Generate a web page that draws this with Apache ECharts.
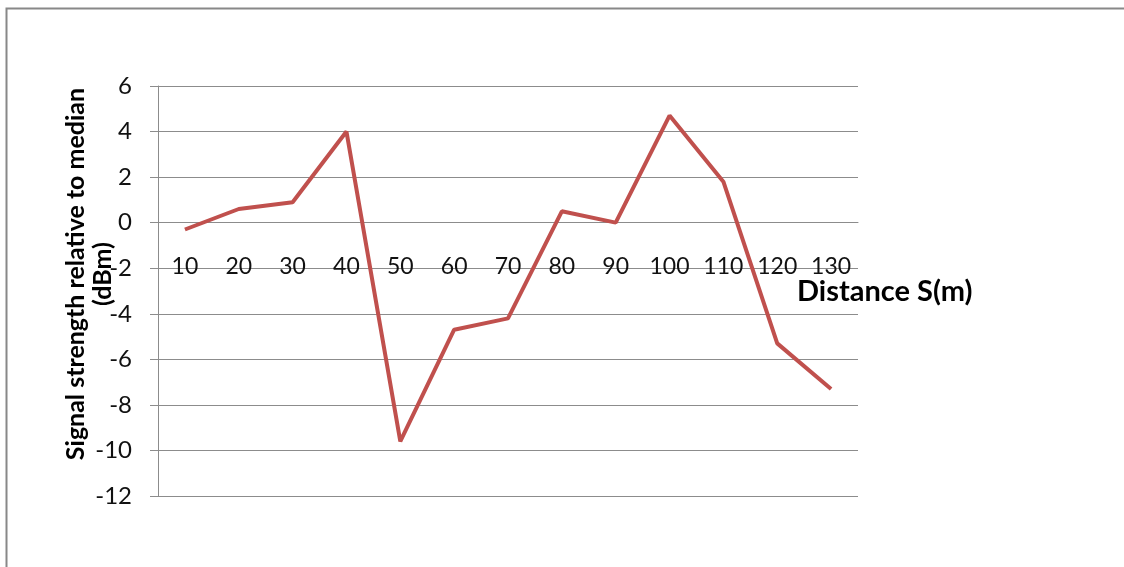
<!DOCTYPE html>
<html><head><meta charset="utf-8">
<script src="https://cdn.jsdelivr.net/npm/echarts@6/dist/echarts.min.js"></script>
<style>html,body{margin:0;padding:0;background:#fff}#c{width:1124px;height:567px}</style>
</head><body><div id="c"></div>
<script>
const categories = ['10','20','30','40','50','60','70','80','90','100','110','120','130'];
const signal = [-0.3, 0.6, 0.9, 4.0, -9.6, -4.7, -4.2, 0.5, 0.0, 4.7, 1.8, -5.3, -7.3];
const yTicks = {min: -12, max: 6, interval: 2};
const yTitle = ['Signal strength relative to median', '(dBm)'];
const xTitle = 'Distance S(m)';

const gridTop = 86, gridBottom = 71, H = 567;
const plotH = H - gridTop - gridBottom;
const zeroOffset = -plotH * (0 - yTicks.min) / (yTicks.max - yTicks.min);

const chart = echarts.init(document.getElementById('c'));
chart.setOption({
  animation: false,
  backgroundColor: '#fff',
  grid: {left: 158, right: 266, top: gridTop, bottom: gridBottom, containLabel: false},
  xAxis: {
    type: 'category', data: categories, boundaryGap: true,
    position: 'bottom', offset: zeroOffset,
    axisLine: {onZero: false, lineStyle: {color: '#8c8c8c', width: 1}},
    axisTick: {show: false},
    axisLabel: {interval: 0, hideOverlap: false, margin: 32, fontFamily: 'Lato', fontSize: 23, color: '#111'},
    splitLine: {show: false}
  },
  yAxis: {
    type: 'value', min: yTicks.min, max: yTicks.max, interval: yTicks.interval,
    axisLine: {show: true, lineStyle: {color: '#8c8c8c', width: 1}},
    axisTick: {show: true, inside: false, length: 8, lineStyle: {color: '#8c8c8c'}},
    axisLabel: {margin: 26, fontFamily: 'Lato', fontSize: 24, color: '#111'},
    splitLine: {show: true, lineStyle: {color: '#8c8c8c', width: 1}}
  },
  graphic: [
    {type: 'rect', shape: {x: 6.5, y: 8.5, width: 1130, height: 600}, style: {fill: 'none', stroke: '#888', lineWidth: 2}, silent: true},
    {type: 'text', x: 89, y: 274, rotation: Math.PI / 2,
      style: {text: yTitle.join('\n'), font: 'bold 25px Lato', fill: '#000', align: 'center', verticalAlign: 'middle', lineHeight: 27}},
    {type: 'text', x: 797, y: 292,
      style: {text: xTitle, font: 'bold 29px Lato', fill: '#000', align: 'left', verticalAlign: 'middle'}}
  ],
  series: [{
    type: 'line', data: signal, showSymbol: false, symbol: 'none',
    lineStyle: {color: '#C0504D', width: 4}, itemStyle: {color: '#C0504D'}
  }]
});
</script></body></html>
